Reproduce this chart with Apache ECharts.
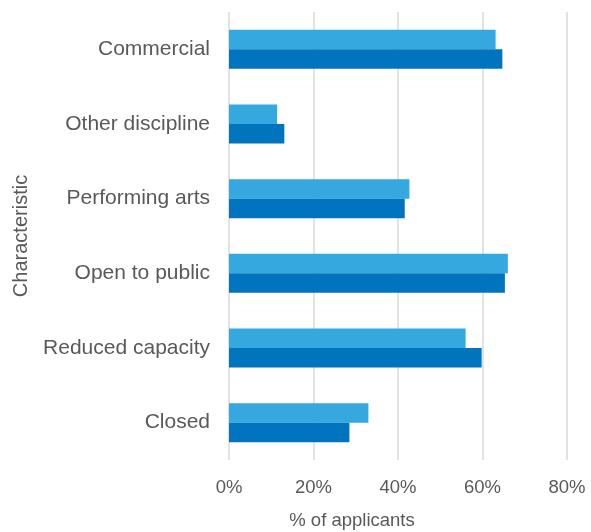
<!DOCTYPE html>
<html>
<head>
<meta charset="utf-8">
<script src="https://cdn.jsdelivr.net/npm/echarts@6/dist/echarts.min.js"></script>
<style>
  html, body { margin: 0; padding: 0; background: #fff; }
  #chart { width: 591px; height: 532px; }
</style>
</head>
<body>
<div id="chart"></div>
<script>
// categories top to bottom
const categories = ["Commercial", "Other discipline", "Performing arts", "Open to public", "Reduced capacity", "Closed"];
// light blue bars (upper bar of each pair), percent
const seriesLight = [63.1, 11.4, 42.7, 66.0, 56.0, 33.0];
// dark blue bars (lower bar of each pair), percent
const seriesDark = [64.7, 13.1, 41.6, 65.3, 59.8, 28.5];
const xTicks = [0, 20, 40, 60, 80];

const chart = echarts.init(document.getElementById("chart"));

const font = "Liberation Sans, Arial, sans-serif";
const grey = "#595959";

chart.setOption({
    animation: false,
    grid: {
        left: 229, right: 24, top: 12, bottom: 72,
        containLabel: false,
        outerBoundsMode: "none"
    },
    xAxis: {
        type: "value",
        min: xTicks[0],
        max: xTicks[xTicks.length - 1],
        interval: 20,
        axisLine: { show: false },
        axisTick: { show: false },
        splitLine: { lineStyle: { color: "#d9d9d9", width: 1.5 } },
        axisLabel: {
            formatter: "{value}%",
            color: grey,
            fontSize: 18.5,
            fontFamily: font,
            margin: 18
        },
        name: "% of applicants",
        nameLocation: "middle",
        nameGap: 51,
        nameTextStyle: { color: grey, fontSize: 18.5, fontFamily: font, padding: [0, 92, 0, 0] }
    },
    yAxis: {
        type: "category",
        data: categories,
        inverse: true,
        axisLine: { show: false },
        axisTick: { show: false },
        axisLabel: { color: grey, fontSize: 21, fontFamily: font, margin: 19 },
        name: "Characteristic",
        nameLocation: "middle",
        nameGap: 198,
        nameTextStyle: { color: grey, fontSize: 20, fontFamily: font }
    },
    series: [
        {
            type: "bar",
            data: seriesLight,
            barWidth: 19.5,
            barGap: "0%",
            itemStyle: { color: "#35a8df" }
        },
        {
            type: "bar",
            data: seriesDark,
            barWidth: 19.5,
            itemStyle: { color: "#0074bd" }
        }
    ]
});
</script>
</body>
</html>
